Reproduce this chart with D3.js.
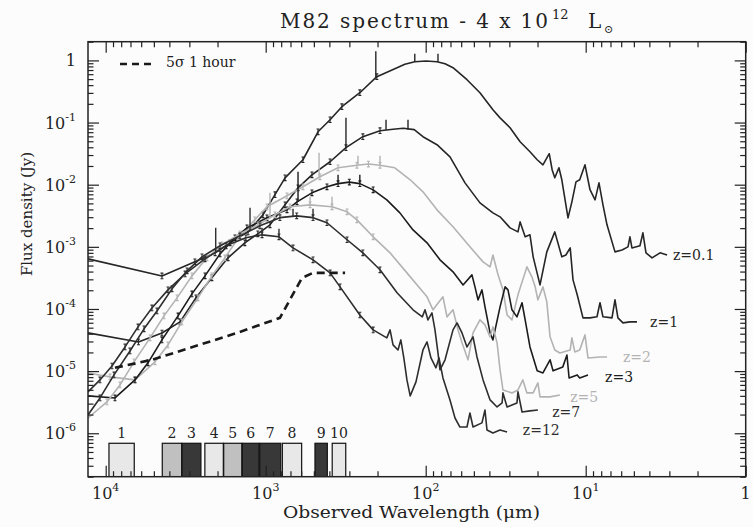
<!DOCTYPE html>
<html><head><meta charset="utf-8">
<script src="https://cdn.jsdelivr.net/npm/d3@7"></script>
<style>
body{margin:0;background:#fcfcfc;}
svg{display:block;}
text{font-family:"DejaVu Serif",serif;fill:#222;}
</style>
</head><body>
<svg id="chart" width="753" height="527"></svg>
<script>
// ---------------- data (wavelength in micron, flux density in Jy) ----------------
const xDomain = [12900, 1];
const yDomain = [2e-7, 2];
const xMajor = [1e4, 1e3, 1e2, 10, 1];
const xMajorExp = ["4", "3", "2", "1", null];
const yMajor = [1e-6, 1e-5, 1e-4, 1e-3, 1e-2, 1e-1, 1];
const yMajorExp = ["-6", "-5", "-4", "-3", "-2", "-1", null];

const z01 = [[12900,6.4e-4],[4450,3.4e-4],[2770,5.75e-4],[2070,8.0e-4],[1670,1.16e-3],[1290,1.74e-3],[1040,3.27e-3],[875,6.9e-3],[757,1.29e-2],[585,2.52e-2],[471,7.1e-2],[396,0.111],[334,0.180],[258,0.302],[202,0.547],[151,0.763],[135,0.869],[117,0.953],[99.6,0.978],[85,0.953],[75.7,0.885],[67.5,0.763],[55.2,0.489],[45.8,0.302],[38.0,0.161],[34.3,0.119],[29.7,0.0824],[25.7,0.0491],[22.3,0.0339],[20.1,0.0252],[18.5,0.0209],[16.9,0.0315],[16.2,0.0173],[15.6,0.0129],[14.7,0.0187],[14.1,0.0120],[12.9,2.92e-3],[12.2,5.3e-3],[11.5,0.0111],[10.9,0.0120],[10.1,0.0209],[9.40,8.3e-3],[8.74,5.7e-3],[8.26,0.0107],[7.80,4.74e-3],[7.36,2.26e-3],[6.56,8.3e-4],[5.93,8.9e-4],[5.44,1.0e-3],[5.29,1.45e-3],[5.14,9.6e-4],[4.58,1.04e-3],[4.39,1.68e-3],[4.20,8.0e-4],[3.85,6.65e-4],[3.43,8.0e-4],[3.10,7.4e-4]];

const z1 = [[12900,4.12e-5],[6240,2.95e-5],[4450,4.1e-5],[3430,6.2e-5],[2730,1.51e-4],[2170,3.17e-4],[1720,6.65e-4],[1350,1.16e-3],[1120,1.62e-3],[940,2.26e-3],[757,4.74e-3],[628,8.9e-3],[514,0.0144],[396,0.0234],[315,0.0394],[247,0.0592],[193,0.0739],[160,0.0780],[138,0.0810],[118,0.0770],[104,0.0592],[85,0.0440],[70.5,0.0281],[56.8,0.0107],[45.8,5.1e-3],[38.0,3.52e-3],[34.3,3.04e-3],[29.7,2.02e-3],[26.5,1.74e-3],[25.7,2.52e-3],[23.9,1.45e-3],[22.3,1.56e-3],[21.3,6.9e-4],[19.3,2.44e-4],[17.5,8.3e-4],[15.6,1.74e-3],[14.1,6.9e-4],[13.3,7.4e-4],[12.5,9.6e-4],[12.0,2.94e-4],[11.3,1.69e-4],[10.4,7.2e-5],[9.40,7.2e-5],[8.50,7.5e-5],[8.14,1.26e-4],[7.80,7.5e-5],[6.85,7.2e-5],[6.56,1.40e-4],[6.29,7.2e-5],[5.85,5.97e-5],[5.29,6.2e-5],[4.78,6.2e-5]];

const z2 = [[12900,9.35e-6],[9400,8.07e-6],[6560,7.22e-6],[4920,1.41e-5],[4080,2.64e-5],[3340,6.2e-5],[2650,1.51e-4],[2170,3.41e-4],[1800,6.65e-4],[1450,1.50e-3],[1170,2.72e-3],[982,4.41e-3],[736,6.62e-3],[585,9.25e-3],[458,0.0134],[353,0.0187],[269,0.0205],[228,0.0215],[193,0.0205],[156,0.0187],[125,0.0120],[104,7.67e-3],[85,3.94e-3],[67.5,2.10e-3],[52.9,1.0e-3],[43.8,5.73e-4],[39.6,4.76e-4],[38.0,7.4e-4],[35.3,3.54e-4],[32.9,2.03e-4],[31.0,8.0e-5],[28.9,6.67e-5],[26.5,1.69e-4],[23.3,4.76e-4],[21.7,3.29e-4],[20.7,2.27e-4],[19.9,1.40e-4],[18.5,2.27e-4],[17.5,1.30e-4],[16.7,3.56e-5],[15.6,2.19e-5],[14.5,1.96e-5],[12.5,2.19e-5],[12.2,3.43e-5],[11.7,2.04e-5],[10.9,2.19e-5],[10.1,3.83e-5],[9.68,1.63e-5],[8.14,1.69e-5],[7.36,1.69e-5]];

const z3 = [[12900,3.99e-6],[8750,3.70e-6],[6560,7.22e-6],[5440,1.36e-5],[4450,3.18e-5],[3530,7.74e-5],[2890,1.75e-4],[2395,3.41e-4],[1930,7.7e-4],[1556,1.40e-3],[1310,2.02e-3],[982,2.93e-3],[736,3.94e-3],[637,5.3e-3],[514,7.4e-3],[414,9.25e-3],[353,0.0104],[300,0.0110],[258,0.0104],[213,8.26e-3],[175,5.7e-3],[145,3.52e-3],[120,1.87e-3],[98.1,1.16e-3],[81.4,6.18e-4],[67.5,3.96e-4],[58.4,2.44e-4],[51.4,3.54e-4],[49.2,2.27e-4],[47.1,1.40e-4],[44.5,2.03e-4],[42.6,1.08e-4],[39.6,4.12e-5],[38.0,3.18e-5],[34.3,1.08e-4],[31.9,2.27e-4],[30.6,2.03e-4],[28.9,9.7e-5],[26.9,7.46e-5],[25.0,1.26e-4],[23.9,6.67e-5],[22.3,2.45e-5],[20.1,1.01e-5],[18.5,9.35e-6],[16.7,1.52e-5],[16.0,1.01e-5],[13.9,1.17e-5],[13.1,1.82e-5],[12.7,7.76e-6],[11.3,8.7e-6],[10.9,7.76e-6],[9.68,8.7e-6]];

const z5 = [[12900,1.76e-6],[9820,3.19e-6],[8140,6.0e-6],[6650,1.41e-5],[5280,3.43e-5],[4320,7.74e-5],[3580,1.51e-4],[2890,3.41e-4],[2330,6.65e-4],[1875,1.08e-3],[1450,1.62e-3],[1117,2.26e-3],[875,3.27e-3],[705,4.41e-3],[528,4.74e-3],[385,4.41e-3],[310,3.66e-3],[269,2.72e-3],[213,1.45e-3],[167,8.0e-4],[131,3.81e-4],[98.1,1.57e-4],[90.0,9.7e-5],[78.0,1.57e-4],[73.6,7.46e-5],[67.5,9.7e-5],[62.8,4.61e-5],[59.3,2.85e-5],[54.4,1.52e-5],[50.6,4.12e-5],[45.8,6.67e-5],[42.6,5.55e-5],[39.6,3.56e-5],[38.0,5.15e-5],[35.8,2.85e-5],[34.3,1.05e-5],[32.9,4.98e-6],[28.9,4.46e-6],[26.5,4.98e-6],[24.7,7.22e-6],[23.3,4.46e-6],[21.3,4.46e-6],[19.9,6.45e-6],[19.3,3.85e-6],[16.7,3.85e-6],[14.5,4.14e-6]];

const z7 = [[12900,1.97e-6],[10860,3.70e-6],[8870,8.7e-6],[7050,2.11e-5],[5760,4.79e-5],[4780,9.3e-5],[3850,2.11e-4],[3100,4.11e-4],[2500,6.9e-4],[1930,1.04e-3],[1450,1.50e-3],[1086,2.18e-3],[815,2.95e-3],[640,3.15e-3],[506,2.95e-3],[414,2.44e-3],[310,1.30e-3],[247,8.0e-4],[193,4.27e-4],[151,1.82e-4],[120,9.7e-5],[105,7.46e-5],[101,9.7e-5],[96.8,6.67e-5],[91.4,8.65e-5],[87.5,4.61e-5],[83.8,1.96e-5],[81.4,1.05e-5],[75.7,1.52e-5],[67.5,4.61e-5],[63.7,5.97e-5],[59.3,4.12e-5],[55.2,2.45e-5],[50.6,3.56e-5],[47.8,1.69e-5],[43.8,7.22e-6],[39.6,3.44e-6],[35.8,2.65e-6],[33.3,3.08e-6],[32.9,4.46e-6],[31.0,2.65e-6],[26.9,3.08e-6],[26.5,4.63e-6],[25.0,2.2e-6],[22.3,2.29e-6],[19.9,2.37e-6]];

const z12 = [[12900,4.63e-6],[10860,7.22e-6],[9140,1.21e-5],[7570,2.45e-5],[6280,5.15e-5],[5140,1.04e-4],[4080,2.03e-4],[3190,3.67e-4],[2395,6.41e-4],[1770,1.04e-3],[1330,1.40e-3],[1054,1.56e-3],[826,1.45e-3],[675,9.6e-4],[506,6.18e-4],[396,3.81e-4],[343,2.27e-4],[258,8.0e-5],[213,4.61e-5],[175,3.43e-5],[167,4.61e-5],[160,2.64e-5],[149,2.19e-5],[143,3.18e-5],[137,1.63e-5],[131,7.22e-6],[125,3.99e-6],[115,6.7e-6],[104,2.19e-5],[98.1,2.95e-5],[92.7,1.63e-5],[86.3,1.13e-5],[82.6,1.63e-5],[78.0,7.76e-6],[70.5,3.44e-6],[65.6,1.76e-6],[61.1,1.26e-6],[55.2,1.26e-6],[52.9,2.12e-6],[50.6,1.26e-6],[44.5,1.47e-6],[42.6,2.37e-6],[41.4,1.13e-6],[38.0,1.01e-6],[34.3,1.13e-6],[31.0,1.05e-6]];

const seriesNames = ["z=0.1", "z=1", "z=2", "z=3", "z=5", "z=7", "z=12"];
const seriesData = [z01, z1, z2, z3, z5, z7, z12];
const seriesLabelAt = [[2.85,7.4e-4],[3.96,6.2e-5],[5.85,1.69e-5],[7.57,8.07e-6],[12.5,3.85e-6],[16.2,2.2e-6],[24.7,1.13e-6]];

// vertical bars above the curves: [wavelength, base flux, top flux, series index]
const upperBars = [
  [205,0.527,1.40,0],[117,0.953,1.28,0],[83.8,0.953,1.28,0],
  [315,0.0394,0.119,1],[177,0.0766,0.111,1],[129,0.0766,0.111,1],
  [464,0.0134,0.0327,2],[265,0.0209,0.0292,2],[193,0.0209,0.0292,2],
  [628,5.3e-3,0.0161,3],[353,0.0107,0.0144,3],[258,0.0107,0.0144,3],
  [940,2.93e-3,7.4e-3,4],[528,4.74e-3,6.38e-3,4],[385,4.41e-3,6.38e-3,4],
  [1253,1.81e-3,4.25e-3,5],[675,3.04e-3,4.09e-3,5],[506,3.04e-3,4.09e-3,5],
  [2053,8.3e-4,2.02e-3,6],[1054,1.56e-3,2.02e-3,6],[826,1.45e-3,1.95e-3,6]
];

// 5 sigma, 1 hour sensitivity
const sens = [[8750,1.13e-5],[5140,1.52e-5],[2970,2.37e-5],[1510,4.12e-5],[815,7.2e-5],[593,3.17e-4],[506,3.81e-4],[319,3.81e-4]];

// observing bands [short, long] wavelength
const bands = [[6630,9540],[3350,4430],[2540,3330],[1840,2400],[1410,1830],[1100,1400],[805,1090],[596,787],[412,492],[316,384]];
const bandNames = ["1","2","3","4","5","6","7","8","9","10"];
const bandShade = ["light","mid","dark","light","mid","dark","dark","light","dark","light"];

// ---------------- layout / style ----------------
const frame = {l:88, r:745.7, t:41.7, b:476.7};
const bandTopFlux = 6.9e-7;
const seriesColor = ["#262626","#262626","#b3b3b3","#1c1c1c","#b3b3b3","#2e2e2e","#2e2e2e"];
const shadeColor = {light:"#e8e8e8", mid:"#c0c0c0", dark:"#383838"};

const svg = d3.select("#chart");
svg.append("rect").attr("width",753).attr("height",527).attr("fill","#fcfcfc");

const x = d3.scaleLog().domain(xDomain).range([frame.l, frame.r]);
const y = d3.scaleLog().domain(yDomain).range([frame.b, frame.t]);

svg.append("clipPath").attr("id","clip").append("rect")
  .attr("x",frame.l).attr("y",frame.t).attr("width",frame.r-frame.l).attr("height",frame.b-frame.t);

const plot = svg.append("g").attr("clip-path","url(#clip)");

// bands
const bg = plot.append("g");
bands.forEach((b,i)=>{
  const x0 = x(b[1]), x1 = x(b[0]);
  bg.append("rect").attr("x",x0).attr("y",y(bandTopFlux)).attr("width",x1-x0)
    .attr("height",frame.b-y(bandTopFlux)+2)
    .attr("fill",shadeColor[bandShade[i]]).attr("stroke","#111").attr("stroke-width",1.2);
  svg.append("text").attr("x",(x0+x1)/2).attr("y",y(bandTopFlux)-5)
    .attr("text-anchor","middle").attr("font-size",14).text(bandNames[i]);
});

// minor/major ticks
const xMinor = [];
for (let e=0;e<=4;e++) for (let m=2;m<=9;m++){ const v=m*Math.pow(10,e); if(v<=xDomain[0]) xMinor.push(v); }
const yMinor = [];
for (let e=-7;e<=0;e++) for (let m=2;m<=9;m++){ const v=m*Math.pow(10,e); if(v>=yDomain[0]&&v<=yDomain[1]*1.0001) yMinor.push(v); }

function tickGroup(axis, tx, ty){
  const g = svg.append("g").attr("transform",`translate(${tx},${ty})`).call(axis);
  g.select(".domain").remove();
  g.selectAll(".tick line").attr("stroke","#222").attr("stroke-width",1.2);
  g.selectAll(".tick text").remove();
  return g;
}
tickGroup(d3.axisBottom(x).tickValues(xMajor).tickSize(-11), 0, frame.b);
tickGroup(d3.axisBottom(x).tickValues(xMinor).tickSize(-5.5), 0, frame.b);
tickGroup(d3.axisTop(x).tickValues(xMajor).tickSize(-11), 0, frame.t);
tickGroup(d3.axisTop(x).tickValues(xMinor).tickSize(-5.5), 0, frame.t);
tickGroup(d3.axisLeft(y).tickValues(yMajor).tickSize(-11), frame.l, 0);
tickGroup(d3.axisLeft(y).tickValues(yMinor).tickSize(-5.5), frame.l, 0);
tickGroup(d3.axisRight(y).tickValues(yMajor).tickSize(-11), frame.r, 0);
tickGroup(d3.axisRight(y).tickValues(yMinor).tickSize(-5.5), frame.r, 0);

// tick labels
yMajor.forEach((v,i)=>{
  const t = svg.append("text").attr("x",76).attr("y",y(v)+6).attr("text-anchor","end").attr("font-size",16);
  t.append("tspan").text(yMajorExp[i]===null ? "1" : "10");
  if (yMajorExp[i]!==null) t.append("tspan").attr("dy",-8).attr("font-size",11).text(yMajorExp[i]);
});
xMajor.forEach((v,i)=>{
  const t = svg.append("text").attr("x",x(v)).attr("y",frame.b+22).attr("text-anchor","middle").attr("font-size",16);
  t.append("tspan").text(xMajorExp[i]===null ? "1" : "10");
  if (xMajorExp[i]!==null) t.append("tspan").attr("dy",-8).attr("font-size",11).text(xMajorExp[i]);
});

// curves
const line = d3.line().x(d=>x(d[0])).y(d=>y(d[1]));
seriesData.forEach((data,i)=>{
  plot.append("path").datum(data).attr("d",line).attr("fill","none")
    .attr("stroke",seriesColor[i]).attr("stroke-width",1.6).attr("stroke-linejoin","round");
  // error bars on photometric points
  data.forEach((d,j)=>{
    if (j===0 || d[0]<180) return;
    const px=x(d[0]), py=y(d[1]);
    const g = plot.append("g").attr("stroke",seriesColor[i]).attr("stroke-width",1.1);
    g.append("line").attr("x1",px).attr("x2",px).attr("y1",py-2.8).attr("y2",py+2.8);
    g.append("line").attr("x1",px-1.5).attr("x2",px+1.5).attr("y1",py-2.8).attr("y2",py-2.8);
    g.append("line").attr("x1",px-1.5).attr("x2",px+1.5).attr("y1",py+2.8).attr("y2",py+2.8);
  });
  const lab = seriesLabelAt[i];
  svg.append("text").attr("x",x(lab[0])).attr("y",y(lab[1])+5).attr("font-size",14)
    .style("fill", seriesColor[i]).text(seriesNames[i]);
});
upperBars.forEach(b=>{
  plot.append("line").attr("x1",x(b[0])).attr("x2",x(b[0])).attr("y1",y(b[1])).attr("y2",y(b[2]))
    .attr("stroke",seriesColor[b[3]]).attr("stroke-width",1.4);
});

// sensitivity
plot.append("path").datum(sens).attr("d",line).attr("fill","none")
  .attr("stroke","#1a1a1a").attr("stroke-width",2.6).attr("stroke-dasharray","8,5");

// frame
svg.append("rect").attr("x",frame.l).attr("y",frame.t).attr("width",frame.r-frame.l).attr("height",frame.b-frame.t)
  .attr("fill","none").attr("stroke","#222").attr("stroke-width",1.5);

// legend
svg.append("line").attr("x1",120).attr("x2",152).attr("y1",64).attr("y2",64)
  .attr("stroke","#1a1a1a").attr("stroke-width",2.6).attr("stroke-dasharray","7,5");
svg.append("text").attr("x",166).attr("y",67).attr("font-size",14).text("5σ 1 hour");

// title
svg.append("text").attr("x",280).attr("y",28).attr("font-size",20).attr("textLength",268)
  .attr("lengthAdjust","spacing").text("M82 spectrum - 4 x 10");
svg.append("text").attr("x",552).attr("y",19).attr("font-size",13).text("12");
svg.append("text").attr("x",588).attr("y",28).attr("font-size",20).text("L");
svg.append("text").attr("x",604).attr("y",33).attr("font-size",11).text("⊙");

// axis titles
svg.append("text").attr("x",283).attr("y",518).attr("font-size",16).attr("textLength",257)
  .attr("lengthAdjust","spacingAndGlyphs").text("Observed Wavelength (μm)");
svg.append("text").attr("transform","translate(32,214) rotate(-90)").attr("text-anchor","middle")
  .attr("font-size",15).text("Flux density (Jy)");
</script>
</body></html>
